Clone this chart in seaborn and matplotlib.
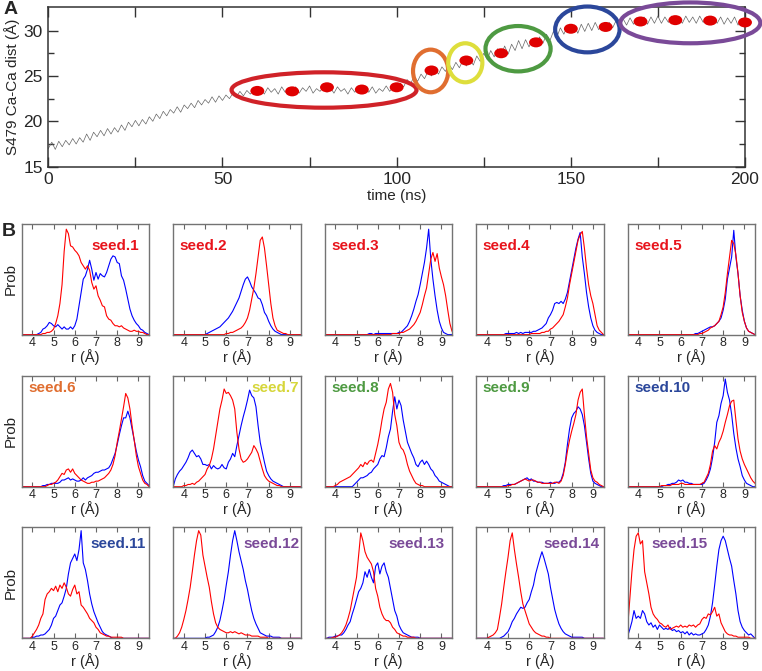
import numpy as np
import pandas as pd
import matplotlib
matplotlib.use("Agg")
import matplotlib.pyplot as plt
from matplotlib.patches import Ellipse
from matplotlib.path import Path
from matplotlib.transforms import Affine2D
import seaborn as sns

sns.set_theme(style="ticks")
plt.rcParams["font.family"] = ["Liberation Sans", "DejaVu Sans"]

# ---- panel A: S479 Ca-Ca distance trace, one value per ns (0..200)
trace_dist = [
    17.0, 17.7, 16.9, 17.8, 17.2, 17.9, 17.4, 18.1, 17.5, 18.2, 17.7,
    18.6, 17.9, 18.8, 18.3, 19.0, 18.4, 19.2, 18.6, 19.3, 18.8,
    19.6, 19.0, 19.9, 19.4, 20.1, 19.5, 20.2, 19.7, 20.5, 20.0,
    20.8, 20.3, 21.1, 20.6, 21.3, 20.9, 21.6, 21.0, 21.8, 21.4,
    22.0, 21.5, 22.3, 21.8, 22.4, 22.0, 22.7, 22.1, 22.8, 22.3,
    22.9, 22.5, 23.1, 22.7, 23.3, 22.8, 23.4, 23.0, 23.5, 23.1,
    23.6, 23.0, 23.7, 23.2, 23.6, 23.0, 23.8, 23.2, 23.5, 23.1,
    23.8, 23.1, 23.7, 23.3, 23.9, 23.1, 23.6, 23.3, 23.8, 23.2,
    23.7, 23.1, 23.8, 23.3, 23.6, 23.0, 23.7, 23.2, 23.9, 23.1,
    23.7, 23.2, 23.8, 23.1, 23.6, 23.3, 23.9, 23.3, 23.8, 23.4,
    24.2, 23.8, 24.6, 24.1, 25.0, 24.4, 25.2, 24.7, 25.5, 25.0,
    25.8, 25.2, 26.0, 25.5, 26.3, 25.7, 26.5, 25.9, 26.7, 26.1,
    26.9, 26.2, 27.2, 26.6, 27.5, 26.8, 27.8, 27.1, 28.0, 27.3,
    28.3, 27.4, 28.5, 27.8, 28.9, 28.0, 29.0, 28.2, 29.1, 28.4,
    29.3, 28.6, 29.6, 28.9, 29.9, 29.3, 30.3, 29.6, 30.5, 29.8,
    30.6, 29.7, 30.7, 29.9, 30.8, 30.0, 30.9, 30.1, 30.8, 30.2,
    30.9, 30.3, 31.1, 30.5, 31.3, 30.6, 31.4, 30.7, 31.4, 30.8,
    31.5, 30.7, 31.5, 30.8, 31.6, 30.8, 31.5, 30.9, 31.6, 30.8,
    31.5, 30.8, 31.6, 30.9, 31.5, 30.8, 31.6, 30.9, 31.5, 30.7,
    31.4, 30.8, 31.5, 30.7, 31.4, 30.8, 31.5, 30.6, 31.3, 30.9,
]
seed_time = [60, 70, 80, 90, 100, 110, 120, 130, 140, 150, 160, 170, 180, 190, 200]
seed_dist = [23.35, 23.3, 23.75, 23.5, 23.75, 25.6, 26.7, 27.5, 28.7, 30.2, 30.4,
             31.0, 31.15, 31.1, 30.9]

# groups circled in panel A: (t_from, t_to, d_from, d_to)
group_red = (52.6, 105.7, 21.5, 25.4)
group_orange = (104.7, 114.8, 23.2, 27.9)
group_yellow = (114.8, 124.6, 24.3, 28.6)
group_green = (125.5, 144.2, 25.5, 30.5)
group_blue = (145.5, 164.0, 27.6, 32.65)
group_purple = (164.2, 204.4, 28.6, 33.1)

c_red = "#d02228"
c_orange = "#e06e30"
c_yellow = "#dede3c"
c_green = "#4e9a42"
c_blue = "#2b479b"
c_purple = "#7a4a98"

# ---- panel B: probability profiles, r from 3.5 to 9.5 A in 0.1 steps
s1_red = [0, 0, 0, 0, 0, 0, 0, 0, 0, 0,
          1, 1, 2, 2, 3, 5, 10, 17, 28, 45,
          75, 95, 91, 80, 79, 76, 74, 71, 65, 62,
          59, 62, 58, 47, 41, 44, 35, 31, 26, 25,
          17, 14, 13, 10, 8, 8, 7, 8, 6, 5,
          4, 3, 3, 4, 3, 3, 2, 2, 1, 0, 0]
s1_blue = [0, 0, 0, 0, 0, 0, 0, 0, 1, 2,
           5, 6, 8, 11, 10, 8, 7, 9, 7, 5,
           7, 5, 5, 7, 5, 8, 14, 26, 38, 50,
           53, 59, 67, 59, 49, 56, 50, 55, 53, 52,
           56, 62, 68, 71, 70, 65, 64, 53, 49, 41,
           32, 23, 17, 13, 10, 8, 5, 4, 2, 1, 0]
s2_red = [0, 0, 0, 0, 0, 0, 0, 0, 0, 0,
          0, 0, 0, 0, 0, 0, 0, 0, 0, 0,
          0, 0, 0, 0, 0, 1, 1, 2, 2, 3,
          4, 5, 6, 8, 11, 15, 22, 32, 42, 55,
          70, 85, 88, 78, 62, 45, 28, 15, 8, 4,
          3, 2, 1, 1, 0, 0, 0, 0, 0, 0, 0]
s2_blue = [0, 0, 0, 0, 0, 0, 0, 0, 0, 0,
           0, 0, 0, 0, 0, 0, 1, 2, 3, 4,
           5, 6, 7, 9, 11, 13, 15, 18, 21, 25,
           29, 33, 39, 45, 50, 52, 48, 43, 40, 37,
           33, 32, 27, 20, 17, 12, 8, 5, 3, 2,
           1, 0, 0, 0, 0, 0, 0, 0, 0, 0, 0]
s3_red = [0, 0, 0, 0, 0, 0, 0, 0, 0, 0,
          0, 0, 0, 0, 0, 0, 0, 0, 0, 0,
          0, 0, 0, 0, 0, 0, 0, 0, 0, 0,
          0, 0, 1, 1, 1, 1, 2, 2, 3, 4,
          5, 7, 9, 12, 16, 20, 27, 35, 42, 55,
          68, 74, 66, 73, 60, 52, 45, 35, 22, 10, 3]
s3_blue = [0, 0, 0, 0, 0, 0, 0, 0, 0, 0,
           0, 0, 0, 0, 0, 0, 0, 0, 0, 0,
           0, 1, 1, 0, 1, 1, 1, 1, 1, 1,
           1, 1, 1, 1, 1, 2, 2, 4, 6, 8,
           12, 17, 23, 30, 36, 45, 55, 65, 78, 95,
           68, 50, 35, 22, 12, 6, 2, 1, 0, 0, 0]
s4_red = [0, 0, 0, 0, 0, 0, 0, 0, 0, 0,
          0, 0, 0, 0, 0, 0, 0, 0, 0, 0,
          0, 0, 0, 0, 0, 0, 1, 1, 1, 1,
          1, 2, 2, 3, 3, 5, 6, 8, 10, 12,
          15, 18, 25, 33, 45, 55, 65, 75, 85, 90,
          93, 78, 60, 45, 35, 28, 18, 8, 4, 2, 0]
s4_blue = [0, 0, 0, 0, 0, 0, 0, 0, 0, 0,
           0, 0, 0, 0, 1, 1, 1, 1, 1, 2,
           1, 2, 1, 2, 2, 2, 2, 3, 3, 4,
           5, 6, 8, 10, 15, 18, 22, 28, 29, 28,
           30, 28, 32, 38, 48, 58, 68, 78, 86, 92,
           70, 55, 38, 25, 15, 8, 4, 2, 1, 0, 0]
s5_red = [0, 0, 0, 0, 0, 0, 0, 0, 0, 0,
          0, 0, 0, 0, 0, 0, 0, 0, 0, 0,
          0, 0, 0, 0, 0, 0, 0, 0, 0, 0,
          0, 0, 0, 0, 1, 1, 2, 3, 4, 6,
          7, 8, 10, 12, 18, 25, 38, 55, 70, 85,
          82, 72, 55, 35, 20, 12, 6, 3, 2, 1, 0]
s5_blue = [0, 0, 0, 0, 0, 0, 0, 0, 0, 0,
           0, 0, 0, 0, 0, 0, 0, 0, 0, 0,
           0, 0, 0, 0, 0, 0, 0, 0, 0, 0,
           0, 0, 1, 1, 2, 3, 4, 5, 6, 7,
           7, 8, 10, 12, 15, 22, 32, 50, 60, 70,
           94, 70, 55, 35, 22, 12, 6, 3, 2, 1, 0]
s6_red = [0, 0, 0, 0, 0, 0, 0, 0, 0, 0,
          0, 0, 1, 2, 2, 3, 4, 6, 9, 12,
          11, 15, 16, 13, 16, 12, 10, 8, 6, 5,
          4, 3, 3, 4, 4, 5, 5, 6, 7, 8,
          10, 12, 15, 20, 28, 40, 50, 61, 72, 84,
          80, 70, 55, 42, 28, 18, 12, 6, 3, 2, 0]
s6_blue = [0, 0, 0, 0, 0, 0, 0, 0, 0, 0,
           1, 1, 2, 2, 3, 3, 3, 3, 4, 6,
           6, 7, 8, 6, 7, 6, 5, 5, 6, 8,
           6, 8, 9, 10, 12, 13, 13, 14, 15, 15,
           16, 17, 20, 25, 30, 38, 47, 55, 62, 62,
           68, 62, 52, 42, 32, 24, 18, 10, 5, 3, 1]
s7_red = [0, 0, 0, 0, 0, 1, 1, 2, 2, 3,
          2, 4, 5, 7, 9, 11, 16, 19, 25, 34,
          46, 58, 70, 78, 88, 84, 85, 82, 78, 70,
          49, 34, 25, 22, 23, 25, 28, 31, 37, 34,
          30, 23, 16, 10, 7, 5, 4, 3, 2, 1,
          1, 0, 0, 0, 0, 0, 0, 0, 0, 0, 0]
s7_blue = [0, 7, 11, 14, 16, 19, 22, 26, 31, 33,
           30, 27, 28, 25, 20, 20, 19, 20, 16, 19,
           17, 16, 17, 20, 17, 16, 22, 25, 30, 27,
           37, 46, 55, 63, 70, 78, 87, 82, 80, 72,
           55, 40, 31, 22, 14, 10, 7, 5, 4, 3,
           2, 1, 0, 0, 0, 0, 0, 0, 0, 0, 0]
s8_red = [0, 0, 0, 0, 0, 1, 2, 4, 5, 6,
          7, 8, 9, 11, 13, 15, 17, 20, 18, 22,
          20, 23, 24, 22, 30, 38, 48, 60, 70, 76,
          88, 93, 85, 65, 55, 40, 35, 33, 28, 20,
          14, 10, 6, 3, 2, 1, 1, 0, 0, 0,
          0, 0, 0, 0, 0, 0, 0, 0, 0, 0, 0]
s8_blue = [0, 0, 0, 0, 0, 0, 0, 0, 0, 0,
           0, 0, 0, 0, 2, 4, 6, 8, 8, 9,
           10, 12, 13, 16, 18, 20, 25, 28, 27, 35,
           45, 52, 68, 81, 70, 78, 73, 60, 50, 40,
           35, 30, 26, 20, 18, 22, 24, 20, 23, 20,
           16, 14, 10, 8, 5, 4, 3, 2, 1, 0, 0]
s9_red = [0, 0, 0, 0, 0, 0, 0, 0, 0, 0,
          0, 0, 0, 0, 0, 1, 1, 2, 2, 3,
          4, 5, 6, 7, 6, 5, 6, 6, 5, 4,
          4, 3, 3, 3, 3, 3, 3, 4, 4, 3,
          5, 10, 20, 32, 42, 50, 57, 65, 78, 85,
          88, 65, 45, 30, 15, 8, 5, 4, 2, 1, 0]
s9_blue = [0, 0, 0, 0, 0, 0, 0, 0, 0, 0,
           0, 0, 0, 1, 1, 2, 2, 2, 2, 3,
           4, 5, 6, 7, 8, 6, 7, 5, 5, 4,
           4, 4, 3, 3, 3, 4, 3, 3, 4, 4,
           6, 12, 22, 38, 52, 62, 66, 68, 72, 70,
           65, 55, 40, 25, 12, 5, 3, 2, 1, 0, 0]
s10_red = [0, 0, 0, 0, 0, 0, 0, 0, 0, 0,
           0, 0, 0, 0, 0, 0, 1, 1, 1, 1,
           1, 2, 2, 2, 2, 3, 3, 2, 2, 2,
           2, 2, 2, 2, 2, 3, 4, 8, 12, 20,
           32, 37, 34, 40, 44, 50, 58, 65, 73, 77,
           78, 60, 43, 32, 25, 20, 16, 12, 8, 5, 3]
s10_blue = [0, 0, 0, 0, 0, 0, 0, 0, 0, 0,
            0, 0, 0, 0, 0, 0, 0, 1, 1, 2,
            2, 3, 3, 4, 6, 5, 6, 4, 4, 3,
            3, 2, 2, 2, 2, 2, 3, 6, 10, 16,
            26, 40, 58, 64, 75, 82, 97, 85, 78, 65,
            48, 35, 25, 18, 10, 6, 3, 2, 1, 0, 0]
s11_red = [0, 0, 0, 0, 0, 2, 5, 8, 12, 18,
           22, 35, 40, 42, 45, 43, 47, 42, 48, 45,
           50, 46, 40, 38, 44, 48, 40, 42, 30, 28,
           25, 22, 18, 16, 14, 10, 8, 5, 4, 3,
           2, 2, 1, 1, 1, 1, 1, 1, 0, 0,
           0, 0, 0, 0, 0, 0, 0, 0, 0, 0, 0]
s11_blue = [0, 0, 0, 0, 0, 1, 1, 2, 2, 3,
            3, 4, 6, 8, 12, 18, 20, 25, 30, 32,
            38, 45, 58, 68, 72, 76, 70, 80, 97, 68,
            62, 52, 40, 31, 24, 19, 14, 10, 6, 4,
            3, 2, 1, 0, 0, 0, 0, 0, 0, 0,
            0, 0, 0, 0, 0, 0, 0, 0, 0, 0, 0]
s12_red = [0, 0, 2, 5, 10, 17, 25, 35, 46, 60,
           75, 88, 97, 93, 75, 65, 55, 46, 33, 22,
           14, 10, 8, 7, 6, 5, 5, 6, 5, 6,
           5, 4, 5, 4, 3, 3, 3, 2, 2, 2,
           2, 1, 1, 1, 1, 0, 0, 0, 0, 0,
           0, 0, 0, 0, 0, 0, 0, 0, 0, 0, 0]
s12_blue = [0, 0, 0, 0, 0, 0, 0, 0, 0, 0,
            0, 0, 0, 0, 0, 0, 1, 1, 2, 3,
            6, 10, 16, 25, 35, 48, 60, 75, 88, 97,
            88, 78, 70, 62, 52, 44, 34, 25, 18, 13,
            9, 5, 4, 3, 2, 2, 2, 1, 1, 1,
            1, 0, 0, 0, 0, 0, 0, 0, 0, 0, 0]
s13_red = [0, 0, 0, 0, 1, 1, 2, 3, 5, 8,
           12, 18, 25, 35, 45, 55, 75, 95, 88, 78,
           73, 70, 67, 60, 45, 38, 28, 22, 18, 16,
           16, 14, 10, 8, 5, 4, 3, 2, 2, 1,
           1, 1, 1, 0, 0, 0, 0, 0, 0, 0,
           0, 0, 0, 0, 0, 0, 0, 0, 0, 0, 0]
s13_blue = [0, 0, 1, 1, 1, 2, 2, 3, 3, 5,
            8, 12, 15, 22, 28, 35, 42, 45, 50, 60,
            55, 62, 55, 50, 65, 68, 58, 65, 68, 60,
            55, 45, 35, 25, 20, 12, 8, 5, 4, 3,
            2, 1, 1, 1, 1, 0, 0, 0, 0, 0,
            0, 0, 0, 0, 0, 0, 0, 0, 0, 0, 0]
s14_red = [0, 0, 0, 0, 0, 0, 1, 2, 3, 5,
           8, 19, 31, 46, 60, 73, 88, 95, 80, 67,
           55, 42, 31, 25, 19, 13, 10, 7, 5, 4,
           3, 2, 2, 1, 1, 0, 0, 0, 0, 0,
           0, 0, 0, 0, 0, 0, 0, 0, 0, 0,
           0, 0, 0, 0, 0, 0, 0, 0, 0, 0, 0]
s14_blue = [0, 0, 0, 0, 0, 0, 0, 0, 0, 0,
            0, 0, 1, 2, 4, 6, 10, 15, 18, 22,
            25, 28, 27, 28, 32, 35, 42, 48, 58, 65,
            72, 78, 72, 65, 58, 46, 36, 26, 19, 13,
            9, 6, 4, 3, 2, 1, 1, 1, 1, 1,
            1, 0, 0, 0, 0, 0, 0, 0, 0, 0, 0]
s15_red = [10, 35, 60, 80, 92, 95, 85, 88, 60, 50,
           40, 28, 22, 19, 17, 14, 13, 11, 10, 12,
           8, 9, 10, 11, 10, 12, 10, 11, 10, 12,
           11, 12, 10, 12, 13, 17, 19, 18, 22, 21,
           24, 28, 20, 22, 14, 10, 6, 4, 3, 3,
           2, 2, 1, 1, 1, 1, 1, 1, 0, 0, 0]
s15_blue = [2, 8, 15, 25, 18, 20, 18, 25, 22, 15,
            12, 14, 10, 12, 8, 12, 10, 8, 9, 8,
            10, 7, 8, 6, 7, 5, 6, 4, 6, 3,
            5, 3, 4, 3, 3, 4, 5, 8, 12, 20,
            32, 48, 65, 80, 88, 92, 88, 80, 72, 65,
            52, 40, 25, 15, 10, 7, 5, 3, 4, 2, 0]

red_curves = [s1_red, s2_red, s3_red, s4_red, s5_red, s6_red, s7_red, s8_red,
              s9_red, s10_red, s11_red, s12_red, s13_red, s14_red, s15_red]
blue_curves = [s1_blue, s2_blue, s3_blue, s4_blue, s5_blue, s6_blue, s7_blue, s8_blue,
               s9_blue, s10_blue, s11_blue, s12_blue, s13_blue, s14_blue, s15_blue]
seed_group = ["red", "red", "red", "red", "red", "orange", "yellow", "green",
              "green", "blue", "blue", "purple", "purple", "purple", "purple"]

group_color = {"red": "#e8141c", "orange": c_orange, "yellow": "#d6d63a",
               "green": c_green, "blue": c_blue, "purple": c_purple}

r_grid = np.round(np.arange(3.5, 9.51, 0.1), 1)

fig = plt.figure(figsize=(7.62, 6.71), dpi=100)

# ---------------- panel A
axA = fig.add_axes([0.0634, 0.7516, 0.9143, 0.2380])
df_trace = pd.DataFrame({"t": np.arange(len(trace_dist)), "d": trace_dist})
sns.lineplot(data=df_trace, x="t", y="d", color="0.4", lw=0.5, ax=axA)
dot = Path.unit_circle().transformed(Affine2D().scale(1.0, 0.72))
sns.scatterplot(x=seed_time, y=seed_dist, marker=dot, s=100, color="#e00000",
                edgecolor="none", ax=axA, zorder=5, clip_on=False)
for grp, col in [(group_red, c_red), (group_orange, c_orange), (group_yellow, c_yellow),
                 (group_green, c_green), (group_blue, c_blue), (group_purple, c_purple)]:
    t0, t1, d0, d1 = grp
    axA.add_patch(Ellipse(((t0 + t1) / 2, (d0 + d1) / 2), t1 - t0, d1 - d0,
                          fill=False, edgecolor=col, lw=3, clip_on=False, zorder=6))
axA.set_xlim(0, 200)
axA.set_ylim(15, 32.6)
axA.set_xticks([0, 50, 100, 150, 200])
axA.set_xticks([25, 75, 125, 175], minor=True)
axA.set_yticks([15, 20, 25, 30])
axA.set_yticks([17.5, 22.5, 27.5], minor=True)
axA.tick_params(which="both", direction="in", top=True, right=True,
                labelsize=12.5, color="0.2", width=1, pad=4)
axA.tick_params(which="major", length=7)
axA.tick_params(which="minor", length=4)
axA.tick_params(axis="x", which="minor", length=7)
for sp in axA.spines.values():
    sp.set_color("0.2")
    sp.set_linewidth(1.1)
axA.set_xlabel("time (ns)", fontsize=11, labelpad=1)
axA.set_ylabel("S479 Ca-Ca dist (Å)", fontsize=11, labelpad=2)
fig.text(0.004, 0.998, "A", fontsize=14, fontweight="bold", va="top", ha="left")
fig.text(0.002, 0.668, "B", fontsize=14, fontweight="bold", va="top", ha="left")

# ---------------- panel B
row_bottom = [0.5013, 0.2747, 0.0487]
label_pos = {
    1: (0.92, 0.80, "right"), 2: (0.05, 0.80, "left"), 3: (0.05, 0.80, "left"),
    4: (0.05, 0.80, "left"), 5: (0.05, 0.80, "left"),
    6: (0.05, 0.89, "left"), 7: (0.99, 0.89, "right"), 8: (0.05, 0.89, "left"),
    9: (0.05, 0.89, "left"), 10: (0.05, 0.89, "left"),
    11: (0.97, 0.85, "right"), 12: (0.99, 0.85, "right"), 13: (0.94, 0.85, "right"),
    14: (0.97, 0.85, "right"), 15: (0.41, 0.85, "center"),
}
for k in range(15):
    row, col = divmod(k, 5)
    ax = fig.add_axes([0.0285 + col * 0.1988, row_bottom[row], 0.1671, 0.1654])
    df = pd.DataFrame({"r": r_grid, "red": red_curves[k], "blue": blue_curves[k]})
    sns.lineplot(data=df, x="r", y="blue", color="#0000ff", lw=0.8, ax=ax)
    sns.lineplot(data=df, x="r", y="red", color="#ff0000", lw=0.8, ax=ax)
    ax.set_xlim(3.5, 9.5)
    ax.set_ylim(0, 100)
    ax.set_xticks([4, 5, 6, 7, 8, 9])
    ax.set_yticks([])
    ax.tick_params(axis="x", direction="in", top=True, length=3.5, width=0.8,
                   labelsize=9, pad=2, color="0.4")
    for sp in ax.spines.values():
        sp.set_color("0.45")
        sp.set_linewidth(1.0)
    ax.set_xlabel("r (Å)", fontsize=10.5, labelpad=0)
    ax.set_ylabel("Prob" if col == 0 else "", fontsize=11, labelpad=3)
    x, y, ha = label_pos[k + 1]
    ax.text(x, y, f"seed.{k + 1}", transform=ax.transAxes, ha=ha, va="center",
            fontsize=11, fontweight="bold", color=group_color[seed_group[k]])

fig.savefig("out.png", dpi=100)
